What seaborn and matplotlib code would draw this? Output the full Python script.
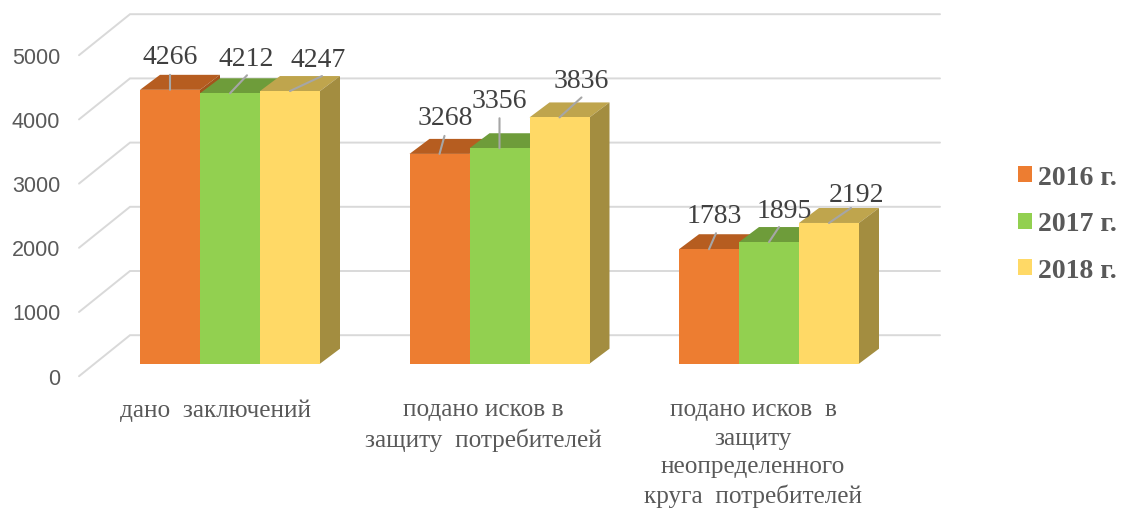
#!/usr/bin/env python3
"""Pseudo-3D clustered bars: seaborn draws the fronts, depth faces are added on top."""

import pandas as pd
import matplotlib
matplotlib.use('Agg')
import matplotlib.pyplot as plt
from matplotlib.patches import Polygon
from matplotlib.transforms import ScaledTranslation
import seaborn as sns

categories = [
    'дано  заключений',
    'подано исков в\nзащиту  потребителей',
    'подано исков  в\nзащиту\nнеопределенного\nкруга  потребителей',
]
years = ['2016 г.', '2017 г.', '2018 г.']
values_2016 = [4266, 3268, 1783]
values_2017 = [4212, 3356, 1895]
values_2018 = [4247, 3836, 2192]
y_ticks = [0, 1000, 2000, 3000, 4000, 5000]

front_colors = ['#ED7D31', '#92D050', '#FFD966']
top_colors = ['#B65D20', '#6E9C3A', '#BFA54D']
side_colors = ['#A3541C', '#628C34', '#A38D40']

# pixel geometry of the picture
W, H = 1121, 510
BASE_Y = 364.7    # where the bars stand
AX_LEFT, AX_RIGHT = 79, 940
CENTER_0 = 230    # middle of the first group
GROUP_STEP = 269.5
BAR_W = 60
PX_PER_UNIT = 321 / 5000

# pixels -> data units
px_x = 1 / GROUP_STEP
px_y = 1 / PX_PER_UNIT

df = pd.DataFrame({
    'category': categories * 3,
    'year': [y for y in years for _ in categories],
    'value': values_2016 + values_2017 + values_2018,
})

sns.set_theme(style='white')
plt.rcParams['font.family'] = ['Liberation Serif', 'DejaVu Sans']

fig = plt.figure(figsize=(W / 100, H / 100), dpi=100)
ax = fig.add_axes([AX_LEFT / W, (H - BASE_Y) / H, (AX_RIGHT - AX_LEFT) / W, BASE_Y / H])

sns.barplot(data=df, x='category', y='value', hue='year', order=categories, hue_order=years,
            palette=front_colors, saturation=1, width=3 * BAR_W / GROUP_STEP, gap=0,
            linewidth=0, ax=ax, zorder=3)

ax.set_xlim((AX_LEFT - CENTER_0) * px_x, (AX_RIGHT - CENTER_0) * px_x)
ax.set_ylim(0, BASE_Y * px_y)
ax.set_xlabel('')
ax.set_ylabel('')
sns.despine(ax=ax, left=True, bottom=True, top=True, right=True)

# walls: side wall runs from the tick label to the back wall, then back grid lines
wall_dx, wall_dy = 51 * px_x, 41 * px_y
front_drop = 12.5 * px_y
x0 = ax.get_xlim()[0]
x1 = ax.get_xlim()[1]
for v in y_ticks:
    y_front = v - front_drop
    y_back = y_front + wall_dy
    ax.plot([x0, x0 + wall_dx, x1], [y_front, y_back, y_back], color='#D9D9D9', lw=1.4,
            clip_on=False, zorder=1, solid_joinstyle='miter')

# depth faces for every bar
depth_x, depth_y = 20 * px_x, 15 * px_y
n = len(categories)
for s, c in enumerate(ax.containers):
    for p in c:
        x, w, h = p.get_x(), p.get_width(), p.get_height()
        ax.add_patch(Polygon([(x, h), (x + w, h), (x + w + depth_x, h + depth_y), (x + depth_x, h + depth_y)],
                             closed=True, fc=top_colors[s], ec='none', zorder=2))
        ax.add_patch(Polygon([(x + w, 0), (x + w + depth_x, depth_y), (x + w + depth_x, h + depth_y), (x + w, h)],
                             closed=True, fc=side_colors[s], ec='none', zorder=2))

# value labels with leader lines, offsets in pixels from the top middle of the bar
bars = sorted((p for c in ax.containers for p in c), key=lambda p: p.get_x())
label_offsets = [(0, 33), (16, 35), (28, 32),
                 (6, 36), (0, 48), (22, 37),
                 (5, 34), (15, 32), (28, 28)]
leader_ends = [(0, 15), (17, 18), (32, 15),
               (5, 18), (0, 30), (22, 20),
               (7, 16), (10, 15), (22, 15)]
for p, (lx, ly), (ex, ey) in zip(bars, label_offsets, leader_ends):
    xy = (p.get_x() + p.get_width() / 2, p.get_height())
    ax.annotate('', xy=xy, xytext=(ex, ey), textcoords='offset pixels',
                arrowprops=dict(arrowstyle='-', color='#A6A6A6', lw=1.5, shrinkA=0, shrinkB=0),
                zorder=5)
    ax.annotate(str(int(p.get_height())), xy=xy, xytext=(lx, ly), textcoords='offset pixels',
                ha='center', va='center', fontsize=20, color='#404040', zorder=6)

# axis labels
ax.set_yticks(y_ticks)
ax.tick_params(axis='y', length=0, pad=13.5, labelsize=15.5, labelcolor='#595959')
ax.tick_params(axis='x', length=0, pad=25, labelsize=18.2, labelcolor='#595959')
ax.set_xticks(range(n))
# slightly tighter than the reference so the last line's descenders stay on the canvas
ax.set_xticklabels(categories, linespacing=1.37, va='top')
for lab in ax.get_yticklabels():
    lab.set_fontfamily('Liberation Sans')
    lab.set_transform(lab.get_transform() + ScaledTranslation(0, -12 / 100, fig.dpi_scale_trans))
for lab, shift in zip(ax.get_xticklabels(), [-15, -16, -16]):
    lab.set_transform(lab.get_transform() + ScaledTranslation(shift / 100, 0, fig.dpi_scale_trans))

handles, labels = ax.get_legend_handles_labels()
ax.legend(handles, labels, loc='center left', bbox_to_anchor=(1018 / W, 1 - 225 / H),
          bbox_transform=fig.transFigure, frameon=False, borderpad=0, borderaxespad=0,
          handlelength=0.5, handleheight=0.5, handletextpad=0.22, labelspacing=0.78,
          prop={'family': 'Liberation Serif', 'weight': 'bold', 'size': 20}, labelcolor='#595959')

fig.savefig('out.png', dpi=100)
